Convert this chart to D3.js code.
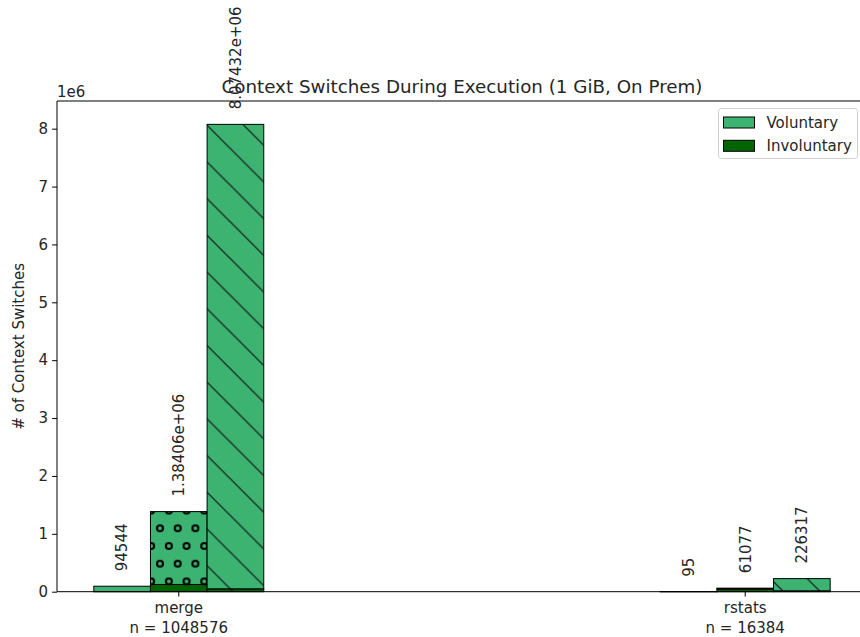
<!DOCTYPE html>
<html>
<head>
<meta charset="utf-8">
<script src="https://cdn.jsdelivr.net/npm/d3@7"></script>
<style>
  html, body { margin: 0; padding: 0; background: #fff; }
  svg text { font-family: "DejaVu Sans", sans-serif; fill: #262626; }
</style>
</head>
<body>
<svg id="chart" width="860" height="637"></svg>
<script>
// ---- data ----
const categories = ["merge", "rstats"];
const categorySizes = ["n = 1048576", "n = 16384"];
const variantHatches = ["none", "circles", "diag"];   // three bars per group
// totals per group (label values)
const totals = [
  [94544, 1384060, 8074320],
  [95, 61077, 226317]
];
// involuntary part (estimated from the dark bottoms)
const involuntary = [
  [2000, 125000, 50000],
  [10, 45000, 15000]
];
const voluntary = totals.map((row, i) => row.map((t, j) => t - involuntary[i][j]));
const yTicks = [0, 1e6, 2e6, 3e6, 4e6, 5e6, 6e6, 7e6, 8e6];
const seriesNames = ["Voluntary", "Involuntary"];
const seriesColors = ["#3cb371", "#006400"];

// ---- layout ----
const mLeft = 57, mRight = 867, mTop = 101, mBottom = 591.7;
const barW = 0.1;
const offsets = [-0.1, 0, 0.1];
const FS = 15;

const svg = d3.select("#chart");
const x = d3.scaleLinear().domain([-0.215, 1.215]).range([mLeft, mRight]);
const yMax = d3.max(totals.flat()) * 1.05;
const y = d3.scaleLinear().domain([0, yMax]).range([mBottom, mTop]);

// %g formatter
function fmtG(v) {
  if (v === 0) return "0";
  const e = Math.floor(Math.log10(Math.abs(v)));
  if (e < -4 || e >= 6) {
    let s = v.toExponential(5);
    let [m, ex] = s.split("e");
    if (m.indexOf(".") >= 0) m = m.replace(/0+$/, "").replace(/\.$/, "");
    const sign = ex[0] === "-" ? "-" : "+";
    let digits = ex.replace(/^[+-]/, "");
    if (digits.length < 2) digits = "0" + digits;
    return m + "e" + sign + digits;
  }
  let s = v.toPrecision(6);
  if (s.indexOf(".") >= 0) s = s.replace(/0+$/, "").replace(/\.$/, "");
  return s;
}

// ---- patterns ----
const defs = svg.append("defs");
const ds = 36.7;
seriesColors.forEach((col, k) => {
  const p = defs.append("pattern").attr("id", "diag" + k)
    .attr("patternUnits", "userSpaceOnUse")
    .attr("x", 8.4).attr("y", 0).attr("width", ds).attr("height", ds);
  p.append("rect").attr("width", ds).attr("height", ds).attr("fill", col);
  p.append("path")
    .attr("d", `M${-2},${-2}L${ds + 2},${ds + 2}M${-2},${ds - 2}L2,${ds + 2}M${ds - 2},-2L${ds + 2},2`)
    .attr("stroke", "#111").attr("stroke-width", 1.2).attr("fill", "none");
  const cw = 17.7, ch = 35.4;
  const c = defs.append("pattern").attr("id", "circles" + k)
    .attr("patternUnits", "userSpaceOnUse")
    .attr("x", 160 - cw / 2).attr("y", 528.3 - cw / 2).attr("width", cw).attr("height", ch);
  c.append("rect").attr("width", cw).attr("height", ch).attr("fill", col);
  [[cw / 2, cw / 2], [0, cw / 2 + 17.7], [cw, cw / 2 + 17.7]].forEach(([cx, cy]) => {
    c.append("circle").attr("cx", cx).attr("cy", cy).attr("r", 3)
      .attr("fill", "none").attr("stroke", "#000").attr("stroke-width", 2.1);
  });
});
function fillFor(j, k) {
  const h = variantHatches[j];
  if (h === "none") return seriesColors[k];
  return `url(#${h}${k})`;
}

// bars
const barG = svg.append("g");
categories.forEach((cat, i) => {
  offsets.forEach((off, j) => {
    const x0 = x(i + off - barW / 2), x1 = x(i + off + barW / 2);
    barG.append("rect")
      .attr("x", x0).attr("width", x1 - x0)
      .attr("y", y(involuntary[i][j])).attr("height", y(0) - y(involuntary[i][j]))
      .attr("fill", fillFor(j, 1)).attr("stroke", "#000").attr("stroke-width", 1);
    const b = involuntary[i][j], t = b + voluntary[i][j];
    barG.append("rect")
      .attr("x", x0).attr("width", x1 - x0)
      .attr("y", y(t)).attr("height", y(b) - y(t))
      .attr("fill", fillFor(j, 0)).attr("stroke", "#000").attr("stroke-width", 1);
    const lx = (x0 + x1) / 2, ly = y(t) - 15;
    barG.append("text")
      .attr("transform", `translate(${lx + 5.3},${ly}) rotate(-90)`)
      .attr("text-anchor", "start")
      .attr("font-size", FS)
      .text(fmtG(totals[i][j]));
  });
});

// spines
const spine = svg.append("g").attr("stroke", "#000").attr("stroke-width", 1);
spine.append("line").attr("x1", mLeft).attr("x2", mLeft).attr("y1", mTop).attr("y2", mBottom);
spine.append("line").attr("x1", mLeft).attr("x2", mRight).attr("y1", mBottom).attr("y2", mBottom);
spine.append("line").attr("x1", mLeft).attr("x2", mRight).attr("y1", mTop).attr("y2", mTop);
spine.append("line").attr("x1", mRight).attr("x2", mRight).attr("y1", mTop).attr("y2", mBottom);

// y axis
const yAxis = d3.axisLeft(y).tickValues(yTicks).tickSize(4.9).tickPadding(4)
  .tickFormat(d => String(d / 1e6));
const yg = svg.append("g").attr("transform", `translate(${mLeft},0)`).call(yAxis);
yg.select(".domain").remove();
yg.selectAll("text").attr("font-size", FS).attr("font-family", "DejaVu Sans").attr("fill", "#262626");
yg.selectAll("line").attr("stroke", "#000");

svg.append("text").attr("x", mLeft).attr("y", 96.5).attr("font-size", FS).text("1e6");

// x axis
const xg = svg.append("g");
categories.forEach((cat, i) => {
  const cx = x(i);
  xg.append("line").attr("x1", cx).attr("x2", cx).attr("y1", mBottom).attr("y2", mBottom + 4.9)
    .attr("stroke", "#000");
  xg.append("text").attr("x", cx).attr("y", 613).attr("text-anchor", "middle").attr("font-size", FS).text(cat);
  xg.append("text").attr("x", cx).attr("y", 633).attr("text-anchor", "middle").attr("font-size", FS).text(categorySizes[i]);
});

// y label
svg.append("text")
  .attr("transform", `translate(24,${(mTop + mBottom) / 2}) rotate(-90)`)
  .attr("text-anchor", "middle").attr("font-size", FS)
  .text("# of Context Switches");

// title
svg.append("text").attr("x", (mLeft + mRight) / 2).attr("y", 92.7)
  .attr("text-anchor", "middle").attr("font-size", 18.3)
  .text("Context Switches During Execution (1 GiB, On Prem)");

// legend
const lg = svg.append("g");
lg.append("rect").attr("x", 718.5).attr("y", 108.5).attr("width", 139).attr("height", 50)
  .attr("rx", 3).attr("fill", "#fff").attr("fill-opacity", 0.8).attr("stroke", "#d0d0d0");
seriesNames.forEach((name, k) => {
  const yy = 117 + k * 23.3;
  lg.append("rect").attr("x", 723.5).attr("y", yy).attr("width", 31).attr("height", 11)
    .attr("fill", seriesColors[k]).attr("stroke", "#000").attr("stroke-width", 1);
  lg.append("text").attr("x", 766.5).attr("y", yy + 10.5).attr("font-size", FS).text(name);
});
</script>
</body>
</html>
